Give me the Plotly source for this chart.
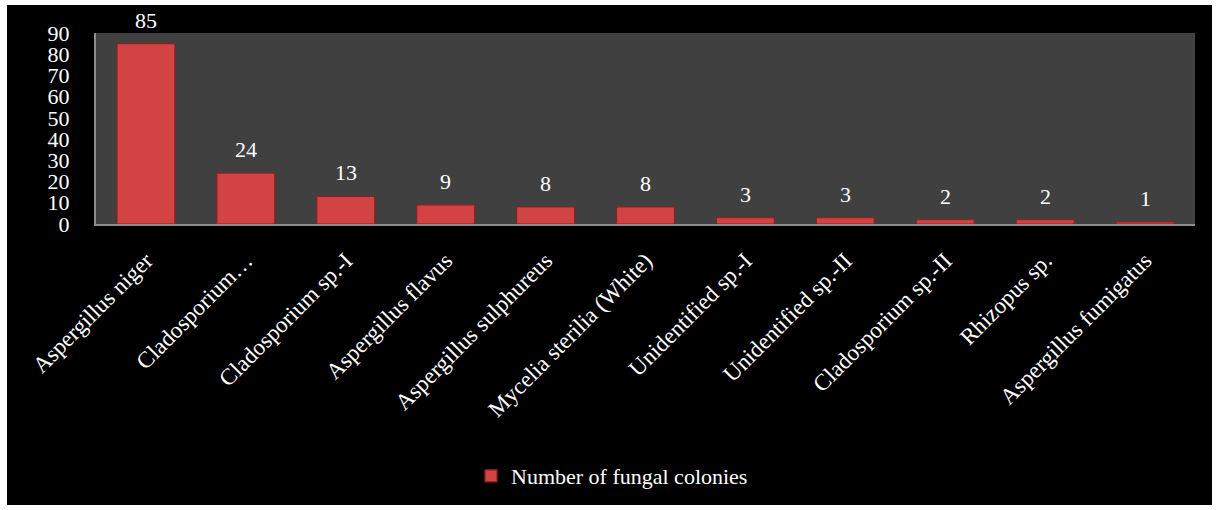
import plotly.graph_objects as go

# Fungal isolates and their colony counts
species = [
    "Aspergillus niger",
    "Cladosporium…",
    "Cladosporium sp.-I",
    "Aspergillus flavus",
    "Aspergillus sulphureus",
    "Mycelia sterilia (White)",
    "Unidentified sp.-I",
    "Unidentified sp.-II",
    "Cladosporium sp.-II",
    "Rhizopus sp.",
    "Aspergillus fumigatus",
]
colonies = [85, 24, 13, 9, 8, 8, 3, 3, 2, 2, 1]
series_name = "Number of fungal colonies"
y_ticks = [0, 10, 20, 30, 40, 50, 60, 70, 80, 90]

FONT = "Liberation Serif, Times New Roman, serif"
W, H = 1219, 510
L, R, T, B = 96, 24, 33, 286
plot_w = W - L - R
plot_h = H - T - B


def px_to_paper_x(px):
    return (px - L) / plot_w


def px_to_paper_y(py):
    return (H - B - py) / plot_h


fig = go.Figure()
fig.add_trace(go.Bar(
    x=species,
    y=colonies,
    name=series_name,
    marker=dict(color="#D24444", line=dict(color="#8A2222", width=1.2)),
    width=0.58,
    showlegend=True,
))

# value labels above each bar
annotations = [
    dict(x=s, y=v, text=str(v), xref="x", yref="y", showarrow=False,
         yanchor="bottom", yshift=9, font=dict(family=FONT, size=22, color="white"))
    for s, v in zip(species, colonies)
]

shapes = [
    # black frame inside a thin white border
    dict(type="rect", xref="paper", yref="paper", layer="below",
         x0=px_to_paper_x(7), x1=px_to_paper_x(1212),
         y0=px_to_paper_y(505), y1=px_to_paper_y(5),
         fillcolor="black", line=dict(width=0)),
    # dark grey plotting area
    dict(type="rect", xref="paper", yref="paper", layer="below",
         x0=0, x1=1, y0=0, y1=1, fillcolor="#404040", line=dict(width=0)),
]

fig.update_layout(
    width=W, height=H,
    margin=dict(l=L, r=R, t=T, b=B, pad=0),
    paper_bgcolor="white",
    plot_bgcolor="#404040",
    font=dict(family=FONT, size=22, color="white"),
    shapes=shapes,
    annotations=annotations,
    bargap=0.42,
    showlegend=True,
    legend=dict(
        orientation="h", x=px_to_paper_x(612), xanchor="center",
        y=px_to_paper_y(476), yanchor="middle",
        font=dict(family=FONT, size=22, color="white"),
        bgcolor="rgba(0,0,0,0)", itemwidth=30,
    ),
    xaxis=dict(
        tickangle=-45, showgrid=False, showline=True, linecolor="#8C8C8C",
        linewidth=2, ticks="", tickfont=dict(family=FONT, size=23, color="white"),
        ticklabelstandoff=12, fixedrange=True,
    ),
    yaxis=dict(
        range=[0, 90], tickvals=y_ticks, showgrid=False, showline=True,
        linecolor="#8C8C8C", linewidth=2, ticks="", zeroline=False,
        tickfont=dict(family=FONT, size=22, color="white"),
        ticklabelstandoff=20, fixedrange=True,
    ),
)

fig.write_html("out.html")
